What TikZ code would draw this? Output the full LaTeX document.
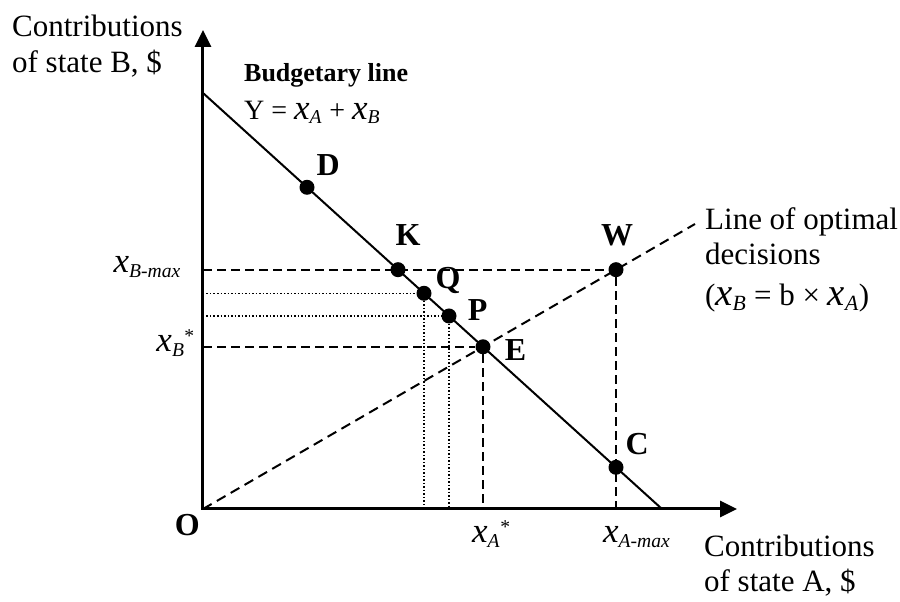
\documentclass[tikz,border=0pt]{standalone}
\usepackage{fontspec}
\usepackage{graphicx}
\setmainfont{Liberation Serif}
\usetikzlibrary{positioning,arrows.meta}
\tikzset{
	plotAxis/.style={
		line width=3pt,
		{Triangle[length=17pt,width=16pt]}-{Triangle[length=17pt,width=16pt]}
	},
	budgetLine/.style={line width=2pt},
	optimalLine/.style={line width=2pt, dash pattern=on 10pt off 6pt},
	guideDash/.style={line width=2pt, dash pattern=on 9pt off 5pt},
	guideDot/.style={line width=1.5pt, dash pattern=on 1.5pt off 2pt},
	pointDot/.style={circle, fill, inner sep=0pt, minimum size=15pt},
	pointLabel/.style={
		font=\fontsize{32}{32}\selectfont\bfseries,
		inner sep=0pt,
		text height=21pt,
		text depth=0pt
	},
	axisText/.style={font=\fontsize{31}{35}\selectfont, align=left, inner sep=0pt},
	tickText/.style={font=\fontsize{28}{28}\selectfont, inner sep=0pt}
}
\newcommand{\xsub}[1]{\scalebox{1.25}{\textit{x}}\textsubscript{\textit{#1}}}

\begin{document}
\begin{tikzpicture}[x=1pt,y=1pt]

	\useasboundingbox (-203,-93) rectangle (697,509);

	% Axes and lines
	\coordinate (O) at (0,0);
	\coordinate (yTip) at (0,479);
	\coordinate (xTip) at (534,0);
	\coordinate (budgetTop) at (0,416);
	\coordinate (budgetEnd) at (459,0);
	\coordinate (optimalEnd) at (492,285);

	% Points
	\node[pointDot] (D) at (104,321.7) {};
	\node[pointDot] (K) at (195,239.3) {};
	\node[pointDot] (Q) at (221,215.7) {};
	\node[pointDot] (P) at (246,193.0) {};
	\node[pointDot] (E) at (280,162.2) {};
	\node[pointDot] (C) at (413,41.7) {};
	\node[pointDot] (W) at (413,239.3) {};

	% Guides
	\draw[guideDash] (O |- K) -- (W);
	\draw[guideDash] (O |- E) -- (E);
	\draw[guideDot] (O |- Q) -- (Q);
	\draw[guideDot] (O |- P) -- (P);
	\draw[guideDot] (Q) -- (Q |- O);
	\draw[guideDot] (P) -- (P |- O);
	\draw[guideDash] (E) -- (E |- O);
	\draw[guideDash] (W) -- (W |- O);

	\draw[optimalLine] (O) -- (optimalEnd);
	\draw[budgetLine] (budgetTop) -- (budgetEnd);
	\draw[plotAxis] (yTip) -- (O) -- (xTip);

	% Point labels
	\node[pointLabel, above right=6pt and 4pt of D] {D};
	\node[pointLabel, above=16pt of K, xshift=10pt] {K};
	\node[pointLabel, above right=-1pt and 6pt of Q] {Q};
	\node[pointLabel, right=11pt of P, yshift=6pt] {P};
	\node[pointLabel, right=14pt of E, yshift=-3pt] {E};
	\node[pointLabel, above right=7pt and 4pt of C] {C};
	\node[pointLabel, above=16pt of W, xshift=1pt] {W};
	\node[pointLabel, below left=5pt and 3pt of O] {O};

	% Axis texts
	\node[axisText, anchor=north west, font=\fontsize{31}{36}\selectfont] (yTitle) at (-191,494) {Contributions\\of state B, \$};
	\node[axisText, anchor=north west] (xTitle) at (501,-26) {Contributions\\of state A, \$};
	\node[axisText, anchor=north west] (optimalText) at (502,302)
	{Line of optimal\\decisions\\[6pt](\xsub{B} = b × \xsub{A})};
	\node[axisText, anchor=north west, font=\fontsize{28}{38}\selectfont] (budgetText) at (41,446)
	{{\fontsize{26}{38}\selectfont\bfseries Budgetary line}\\Y = \xsub{A} + \xsub{B}};

	% Tick texts
	\node[tickText, anchor=base east] (xBmax) at (-22,236) {\xsub{B-max}};
	\node[tickText, anchor=base east] (xBopt) at (-8,157) {\xsub{B}\textsuperscript{*}};
	\node[tickText, anchor=base west] (xAopt) at (269,-34) {\xsub{A}\textsuperscript{*}};
	\node[tickText, anchor=base west] (xAmax) at (400,-34) {\xsub{A-max}};

\end{tikzpicture}
\end{document}
